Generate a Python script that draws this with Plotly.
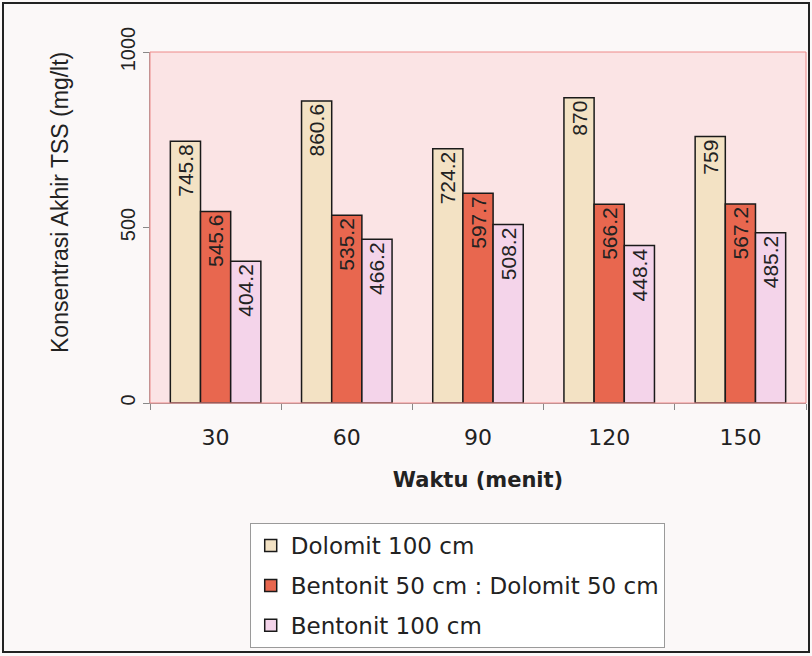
import plotly.graph_objects as go

categories = ["30", "60", "90", "120", "150"]
dolomit_100 = [745.8, 860.6, 724.2, 870, 759]
bento50_dolo50 = [545.6, 535.2, 597.7, 566.2, 567.2]
bentonit_100 = [404.2, 466.2, 508.2, 448.4, 485.2]
series_names = ["Dolomit 100 cm", "Bentonit 50 cm : Dolomit 50 cm", "Bentonit 100 cm"]
colors = ["#f3e2c4", "#e8674f", "#f4d4ea"]

FONT = "Liberation Sans, Arial, sans-serif"
WIDE = "DejaVu Sans, sans-serif"

fig = go.Figure()
for i, (name, vals) in enumerate(zip(series_names, [dolomit_100, bento50_dolo50, bentonit_100])):
    fig.add_trace(go.Bar(
        x=categories, y=vals, name=name,
        legendgroup=f"g{i}",
        marker=dict(color=colors[i], line=dict(color="#1a1a1a", width=1.5)),
        text=[f"{v:g}" for v in vals],
        textposition="inside", insidetextanchor="end",
        textangle=-90,
        textfont=dict(family=FONT, size=21, color="#222222"),
        constraintext="none",
    ))

fig.update_layout(
    width=812, height=656,
    margin=dict(l=150, r=6, t=52, b=253),
    paper_bgcolor="#fbf8f8",
    plot_bgcolor="#fbe4e5",
    barmode="group",
    bargap=0.31, bargroupgap=0,
    font=dict(family=FONT, color="#222222"),
    showlegend=True,
    legend=dict(
        x=0.152, y=-0.342, xanchor="left", yanchor="top",
        bgcolor="#ffffff", bordercolor="#9a9a9a", borderwidth=1,
        font=dict(family=WIDE, size=23, color="#222222"),
        tracegroupgap=7, traceorder="grouped",
        itemwidth=30,
    ),
    xaxis=dict(
        type="category", automargin=False,
        tickson="boundaries", ticks="outside", ticklen=6, tickcolor="#888888",
        ticklabelstandoff=15,
        showline=True, linecolor="#999999", linewidth=1,
        tickfont=dict(family=WIDE, size=22, color="#222222"),
        title=dict(text="<b>Waktu (menit)</b>", font=dict(family=WIDE, size=21, color="#222222"), standoff=22),
    ),
    yaxis=dict(
        range=[0, 1000], tickvals=[0, 500, 1000], automargin=False,
        ticks="outside", ticklen=6, tickcolor="#888888",
        showgrid=False, zeroline=False,
        showline=True, linecolor="#999999", linewidth=1,
        tickangle=-90,
        tickfont=dict(size=20, color="#222222"),
    ),
    annotations=[
        dict(text="Konsentrasi Akhir TSS (mg/lt)", textangle=-90, showarrow=False,
             xref="paper", yref="paper", x=(60 - 150) / 656, y=(403 - 203) / 351,
             xanchor="center", yanchor="middle",
             font=dict(family=FONT, size=23, color="#222222")),
    ],
    shapes=[
        dict(type="rect", xref="paper", yref="paper", x0=0, x1=1, y0=0, y1=1,
             line=dict(color="#ee8a8a", width=1), fillcolor="rgba(0,0,0,0)", layer="above"),
        dict(type="rect", xref="paper", yref="paper",
             x0=-147/656, x1=(656+3)/656, y0=-(656-403-4)/351, y1=1+(52-3)/351,
             line=dict(color="#222222", width=2), fillcolor="rgba(0,0,0,0)", layer="above"),
    ],
)

fig.write_html(
    "out.html",
    config={"displayModeBar": False},
    post_script="document.body.style.margin='0';document.body.style.overflow='hidden';",
)
